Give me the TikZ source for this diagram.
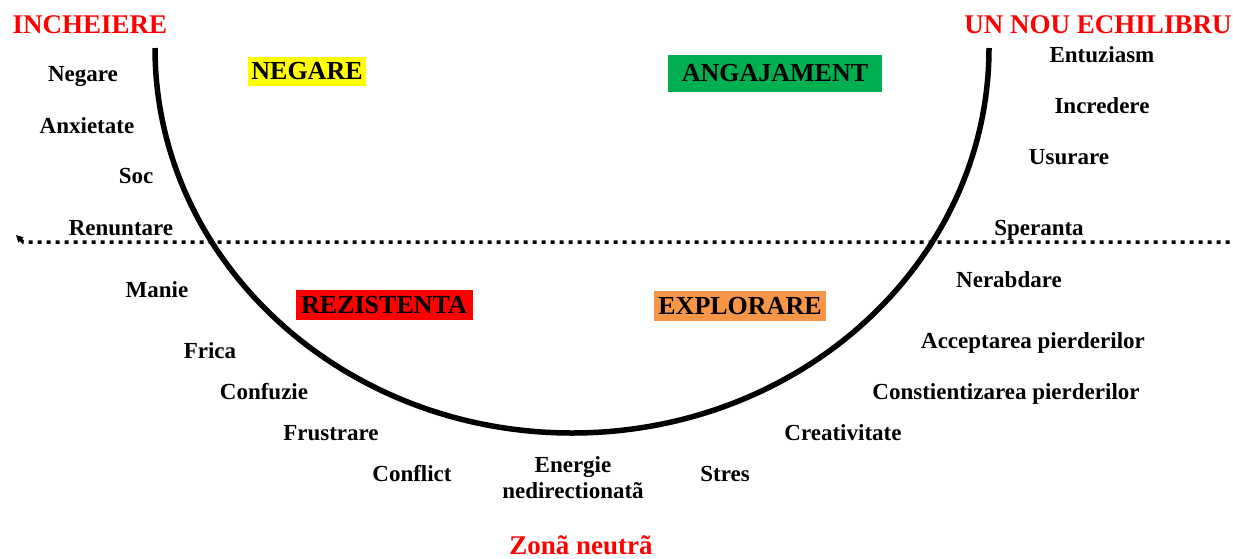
\documentclass[tikz,border=0pt]{standalone}
\usepackage{fontspec}
\setmainfont{Liberation Serif}
\usetikzlibrary{arrows.meta}
\definecolor{boxyellow}{HTML}{FFFF00}
\definecolor{boxgreen}{HTML}{00B050}
\definecolor{boxred}{HTML}{FF0000}
\definecolor{boxorange}{HTML}{F79646}
\definecolor{titlered}{HTML}{FF0000}

\begin{document}
\begin{tikzpicture}[x=1pt,y=-1pt,
  feeling/.style={font=\fontsize{23}{26}\selectfont\bfseries, align=center, inner sep=0pt, text height=15pt, text depth=0pt},
  phase/.style={font=\fontsize{26}{28}\selectfont\bfseries, inner xsep=3pt, inner ysep=0pt},
  heading/.style={font=\fontsize{27}{30}\selectfont\bfseries, text=titlered, inner sep=0pt, text height=18pt, text depth=0pt}]
\useasboundingbox (0,0) rectangle (1233,558);

% the U curve and the dotted line
\draw[line width=5.5pt] (155,48) arc[start angle=180, end angle=360, x radius=417pt, y radius=385pt];
\coordinate (lineright) at (1233,242);
\coordinate (lineleft) at (16,235);
\draw[line width=3.5pt, dash pattern=on 4pt off 5pt, {Triangle[length=7pt,width=7pt]}-] (lineleft) -- (23,242) -- (lineright);

% headings
\node[heading] (incheiere) at (90,24) {INCHEIERE};
\node[heading] (echilibru) at (1098,24) {UN NOU ECHILIBRU};
\node[heading] (zona) at (581,545) {Zonã neutrã};

% phases
\node[phase, fill=boxyellow, minimum width=117pt, minimum height=29pt] (negarebox) at (307,71) {NEGARE};
\node[phase, fill=boxgreen, minimum width=214pt, minimum height=37pt] (angajament) at (775,73) {ANGAJAMENT\hspace{16pt}};
\node[phase, fill=boxred, minimum width=177pt, minimum height=30pt] (rezistenta) at (384,305) {REZISTENTA};
\node[phase, fill=boxorange, minimum width=172pt, minimum height=30pt] (explorare) at (740,306) {EXPLORARE};

% left side
\node[feeling] (negare) at (83,74) {Negare};
\node[feeling] (anxietate) at (87,126) {Anxietate};
\node[feeling] (soc) at (136,176) {Soc};
\node[feeling] (renuntare) at (121,228) {Renuntare};
\node[feeling] (manie) at (157,290) {Manie};
\node[feeling] (frica) at (210,351) {Frica};
\node[feeling] (confuzie) at (264,392) {Confuzie};
\node[feeling] (frustrare) at (331,433) {Frustrare};
\node[feeling] (conflict) at (412,474) {Conflict};
\node[feeling] (energie) at (573,491) {Energie\\nedirectionatã};

% right side
\node[feeling] (stres) at (725,474) {Stres};
\node[feeling] (creativitate) at (843,433) {Creativitate};
\node[feeling] (constientizarea) at (1006,392) {Constientizarea pierderilor};
\node[feeling] (acceptarea) at (1033,341) {Acceptarea pierderilor};
\node[feeling] (nerabdare) at (1009,280) {Nerabdare};
\node[feeling] (speranta) at (1039,228) {Speranta};
\node[feeling] (usurare) at (1069,157) {Usurare};
\node[feeling] (incredere) at (1102,106) {Incredere};
\node[feeling] (entuziasm) at (1102,55) {Entuziasm};
\end{tikzpicture}
\end{document}
